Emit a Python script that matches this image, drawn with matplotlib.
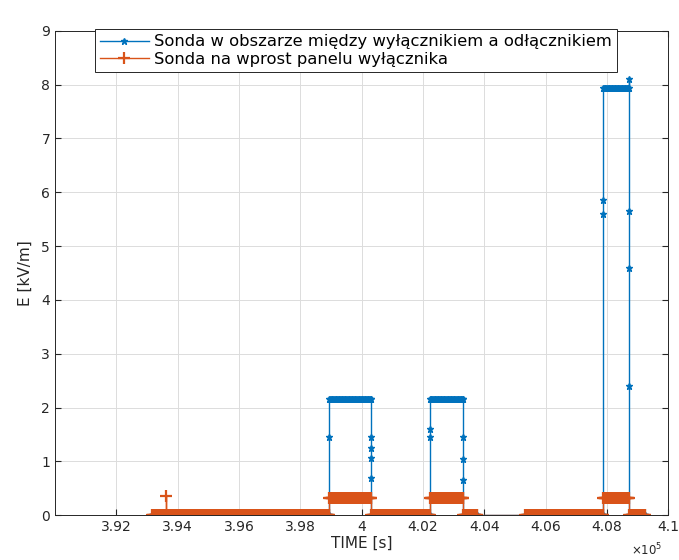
import numpy as np
import matplotlib
matplotlib.use('Agg')
import matplotlib.pyplot as plt

# sampled probe signals: runs of (start, end, level) and the samples
# caught on the edge after each run
dt = 0.00025

blue_runs = [(3.9316, 3.9895, 0.0), (3.9895, 4.0031, 2.15), (4.0031, 4.0223, 0.0),
             (4.0223, 4.0331, 2.15), (4.0331, 4.0377, 0.0), (4.0533, 4.0788, 0.0),
             (4.0788, 4.0873, 7.93), (4.0873, 4.0925, 0.0)]
blue_edges = [[1.45], [1.45, 1.25, 1.06, 0.69], [1.6, 1.45], [1.45, 1.05, 0.65],
              [], [5.6, 5.85], [8.1, 5.65, 4.6, 2.4], []]

orange_runs = [(3.9316, 3.9362, 0.0), (3.9362, 3.9895, 0.0), (3.9895, 4.0031, 0.32),
               (4.0031, 4.0223, 0.0), (4.0223, 4.0331, 0.32), (4.0331, 4.0377, 0.0),
               (4.0533, 4.0788, 0.0), (4.0788, 4.0873, 0.32), (4.0873, 4.0925, 0.0)]
orange_edges = [[0.35], [], [], [], [], [], [], [], []]

label_blue = 'Sonda w obszarze między wyłącznikiem a odłącznikiem'
label_orange = 'Sonda na wprost panelu wyłącznika'


def build(runs, edges):
    t, v = [], []
    for (a, b, lev), ed in zip(runs, edges):
        ts = np.arange(a, b, dt)
        t += list(ts) + [b]
        v += [lev] * (len(ts) + 1)
        for e in ed:
            t.append(b)
            v.append(e)
    return np.array(t), np.array(v)


tb, vb = build(blue_runs, blue_edges)
to, vo = build(orange_runs, orange_edges)

fig = plt.figure(figsize=(6.79, 5.6), dpi=100)
ax = fig.add_axes([0.081, 0.080, 0.903, 0.865])

ax.plot(tb, vb, color='#0072BD', marker='*', markersize=5, linewidth=1.0, label=label_blue)
ax.plot(to, vo, color='#D95319', marker='+', markersize=8, markeredgewidth=1.6,
        linewidth=1.0, label=label_orange)

ax.set_xlim(3.9, 4.1)
ax.set_ylim(0, 9)
ax.set_xticks([3.92, 3.94, 3.96, 3.98, 4.0, 4.02, 4.04, 4.06, 4.08, 4.1])
ax.set_xticklabels(['3.92', '3.94', '3.96', '3.98', '4', '4.02', '4.04', '4.06', '4.08', '4.1'])
ax.set_yticks(range(10))
ax.grid(True, color='#dcdcdc', linewidth=0.7)
ax.tick_params(direction='in', top=True, right=True, labelsize=10, colors='#262626', length=4)
for s in ax.spines.values():
    s.set_color('#262626')
    s.set_linewidth(0.7)

ax.set_xlabel('TIME [s]', fontsize=11, color='#262626', labelpad=1)
ax.set_ylabel('E [kV/m]', fontsize=11, color='#262626', labelpad=6)
ax.text(0.99, -0.055, r'$\times10^5$', transform=ax.transAxes, ha='right', va='top',
        fontsize=8.5, color='#262626')

leg = ax.legend(loc='upper left', bbox_to_anchor=(0.065, 1.003), fontsize=11.8,
                fancybox=False, framealpha=1, edgecolor='#262626', borderpad=0.3,
                labelspacing=0.15, handlelength=3.0, handletextpad=0.3, borderaxespad=0)
leg.get_frame().set_linewidth(0.7)

fig.savefig('out.png', dpi=100)
